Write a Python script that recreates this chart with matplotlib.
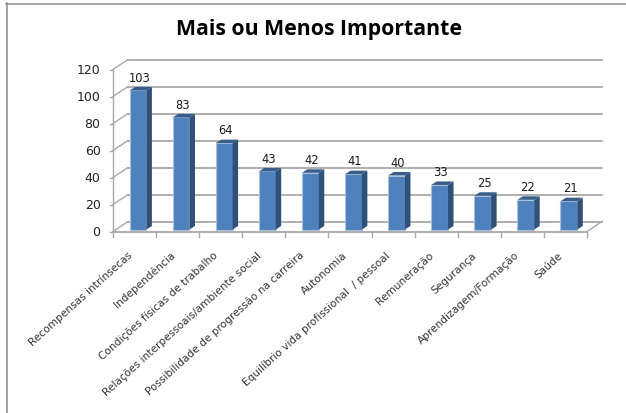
import matplotlib
matplotlib.use("Agg")
import matplotlib.pyplot as plt
from matplotlib.patches import Polygon

title = "Mais ou Menos Importante"
categories = [
    "Recompensas intrínsecas",
    "Independência",
    "Condições físicas de trabalho",
    "Relações interpessoais/ambiente social",
    "Possibilidade de progressão na carreira",
    "Autonomia",
    "Equilíbrio vida profissional  / pessoal",
    "Remuneração",
    "Segurança",
    "Aprendizagem/Formação",
    "Saúde",
]
values = [103, 83, 64, 43, 42, 41, 40, 33, 25, 22, 21]
y_ticks = [0, 20, 40, 60, 80, 100, 120]

W, H = 626, 414
# front plane of the fake 3d box, in pixels
LEFT, RIGHT, BOTTOM, TOP = 113, 587, 232.5, 70.5
WALL_DX, WALL_DY = 15, 10   # back wall offset
BAR_DX, BAR_DY = 5.5, 3.5   # bar depth

fig = plt.figure(figsize=(W / 100, H / 100), dpi=100)
ax = fig.add_axes([LEFT / W, 1 - BOTTOM / H, (RIGHT - LEFT) / W, (BOTTOM - TOP) / H])
ax.set_xlim(0, len(categories))
ax.set_ylim(0, y_ticks[-1])
ax.axis("off")

px_x = len(categories) / (RIGHT - LEFT)
px_y = y_ticks[-1] / (BOTTOM - TOP)
grid_col = "#a8a8a8"
n = len(categories)

# back wall gridlines and left side diagonals
for t in y_ticks:
    ax.plot([WALL_DX * px_x, n + WALL_DX * px_x], [t + WALL_DY * px_y] * 2,
            color=grid_col, lw=1.3, clip_on=False, zorder=1)
    ax.plot([0, WALL_DX * px_x], [t, t + WALL_DY * px_y],
            color=grid_col, lw=1, clip_on=False, zorder=1)
    ax.plot([-3 * px_x, 0], [t, t], color=grid_col, lw=1, clip_on=False, zorder=1)

# left axis, floor and ticks
ax.plot([0, 0], [0, y_ticks[-1]], color=grid_col, lw=1, clip_on=False, zorder=1)
ax.plot([0, n], [0, 0], color=grid_col, lw=1.3, clip_on=False, zorder=1)
ax.plot([n, n + WALL_DX * px_x], [0, WALL_DY * px_y], color=grid_col, lw=1, clip_on=False, zorder=1)
for i in range(n + 1):
    ax.plot([i, i], [0, -5.5 * px_y], color=grid_col, lw=1, clip_on=False, zorder=1)

# bars
bar_w = 0.39
shift_x = 0.08
base = 2 * px_y
for i, v in enumerate(values):
    x0 = i + 0.5 + shift_x - bar_w / 2
    x1 = x0 + bar_w
    top = v + base
    dx = BAR_DX * px_x
    dy = BAR_DY * px_y
    ax.bar(x0, v, width=bar_w, bottom=base, align="edge", color="#4f81bd",
           edgecolor="#a9c0dd", linewidth=0.8, clip_on=False, zorder=3)
    ax.add_patch(Polygon([(x1, base), (x1 + dx, base + dy), (x1 + dx, top + dy), (x1, top)],
                         closed=True, facecolor="#2f5078", edgecolor="none", clip_on=False, zorder=3))
    ax.add_patch(Polygon([(x0, top), (x0 + dx, top + dy), (x1 + dx, top + dy), (x1, top)],
                         closed=True, facecolor="#385d8a", edgecolor="none", clip_on=False, zorder=3))
    ax.annotate(str(v), (i + 0.5 + shift_x + 0.03, top), xytext=(0, 5), textcoords="offset points",
                ha="center", va="bottom", fontsize=8.3, color="#1a1a1a", zorder=4)

# y labels
for t in y_ticks:
    ax.annotate(str(t), (0, t), xytext=(-9, 0), textcoords="offset points",
                ha="right", va="center", fontsize=9, color="#222222")

# category labels
for i, c in enumerate(categories):
    ax.annotate(c, (i + 0.5, 0), xytext=(-3, -15.5), textcoords="offset points",
                ha="right", va="center", rotation=42, rotation_mode="anchor",
                fontsize=7.55, color="#333333")

# picture frame and title
fig.add_artist(plt.Line2D([6.5 / W, 6.5 / W], [0, 1 - 4 / H], color="#8c8c8c", lw=1.1))
fig.add_artist(plt.Line2D([6 / W, 1], [1 - 4.5 / H] * 2, color="#8c8c8c", lw=1.1))
fig.text(319 / W, 1 - 29 / H, title, ha="center", va="center",
         fontsize=15.3, fontweight="bold", family="Open Sans", color="black")

fig.savefig("out.png", dpi=100)
